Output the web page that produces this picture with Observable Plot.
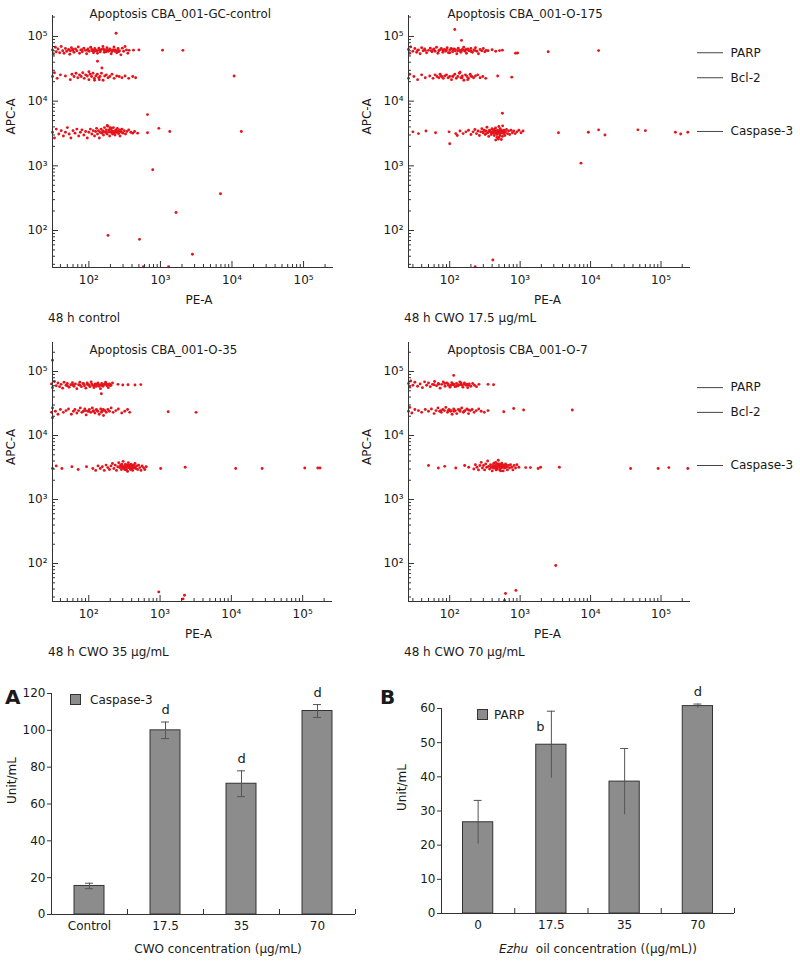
<!DOCTYPE html>
<html>
<head>
<meta charset="utf-8">
<script src="https://cdn.jsdelivr.net/npm/d3@7"></script>
<script src="https://cdn.jsdelivr.net/npm/@observablehq/plot@0.6"></script>
<style>
  body { margin: 0; background: #fff; }
  #fig { position: relative; width: 800px; height: 964px; font-family: "DejaVu Sans", sans-serif; color: #1a1a1a; overflow: hidden; }
  .abs { position: absolute; white-space: nowrap; }
  svg { max-width: none !important; }
</style>
</head>
<body>
<div id="fig"></div>
<script>
// ---------- Flow cytometry scatter data: [PE-A, APC-A] ----------
const ctrlParp = [[31,62000],[32,54000],[34,68000],[35,58000],[37,64000],[39,56000],[41,70000],[43,60000],[45,55000],[47,65000],[49,59000],[52,63000],[54,53000],[57,67000],[59,61000],[62,57000],[65,64000],[68,60000],[71,69000],[74,55000],[77,62000],[81,58000],[85,66000],[89,61000],[93,54000],[97,64000],[101,59000],[106,68000],[111,60000],[116,56000],[121,65000],[126,61000],[132,55000],[138,66000],[144,58000],[150,63000],[157,70000],[164,57000],[171,62000],[179,67000],[187,59000],[196,64000],[205,54000],[214,61000],[224,69000],[234,62000],[245,56000],[256,65000],[268,60000],[280,52000],[293,66000],[306,59000],[320,70000],[335,62000],[350,55000],[365,61000],[60,63000],[95,61000],[130,60000],[175,58000],[200,62000],[230,59000],[160,64000],[110,63000],[145,61000],[190,60000],[55,60000],[80,62000],[120,59000],[140,61500],[165,60500],[185,61500],[210,58500],[220,62500],[250,60000],[260,58000],[115,61000],[170,59500],[420,61500],[500,62000],[1070,61500],[2060,61000],[240,112000],[132,41500],[152,32500]];
const ctrlBcl2 = [[31,24000],[33,27500],[36,22500],[40,25500],[47,24500],[55,21500],[58,26000],[62,24000],[66,27000],[70,23000],[74,25500],[78,24000],[82,27500],[86,22500],[90,25500],[95,24500],[100,21500],[104,26000],[109,24000],[114,27000],[119,22500],[125,24500],[131,26000],[137,23000],[143,24000],[150,27000],[158,21000],[166,24500],[175,25500],[185,23000],[196,24000],[210,26000],[225,22500],[245,24500],[265,24000],[290,23000],[320,24500],[360,22500],[410,24000],[450,23000],[120,21000],[140,21500],[100,28500],[10700,24500]];
const ctrlCasp = [[31,3300],[33,2700],[35,3700],[38,3100],[41,3500],[44,2900],[47,3300],[50,3900],[53,3100],[56,2700],[60,3500],[64,3200],[68,3700],[72,2900],[76,3300],[80,3600],[85,3000],[90,3400],[95,2700],[100,3300],[105,3700],[110,3100],[115,3500],[120,2900],[124,3400],[128,3800],[132,3100],[136,3500],[140,2700],[144,3300],[148,3700],[152,3200],[156,3500],[160,3000],[165,3900],[170,3300],[175,3600],[180,3100],[185,4100],[190,3400],[195,2900],[200,3700],[205,3300],[210,3500],[215,3100],[220,3900],[226,3400],[232,3000],[238,3600],[244,3300],[250,3800],[257,3200],[264,3500],[272,2900],[280,3400],[290,3700],[300,3200],[312,3500],[325,3100],[340,3400],[360,3600],[385,3300],[410,3200],[435,3400],[175,3300],[190,3600],[205,3800],[215,3400],[225,3200],[240,3500],[255,3300],[270,3600],[285,3300],[160,3400],[180,4200],[200,3900],[230,3300],[245,3450],[260,3150],[210,3250],[195,3350],[480,3200],[660,3250],[660,6200],[950,3800],[1350,3400],[13500,3400]];
const ctrlOther = [[780,870],[6900,370],[1650,190],[185,84],[510,73],[2800,43],[580,27.5],[1300,27.5]];

const o175Parp = [[26,63000],[27,55000],[28,69000],[30,59000],[32,65000],[34,57000],[36,62000],[38,54000],[40,67000],[42,60000],[44,64000],[47,56000],[50,61000],[53,66000],[56,58000],[59,63000],[62,59000],[65,68000],[68,55000],[72,62000],[76,65000],[80,57000],[84,63000],[88,59000],[92,67000],[96,56000],[100,62000],[105,65000],[110,58000],[115,64000],[120,60000],[126,54000],[132,66000],[138,61000],[144,57000],[151,63000],[158,68000],[165,59000],[173,55000],[181,64000],[190,60000],[200,65000],[210,57000],[220,62000],[232,67000],[244,59000],[256,54000],[270,63000],[285,60000],[300,65000],[315,58000],[330,61000],[45,61000],[70,60000],[90,62000],[110,63000],[130,60000],[150,61000],[170,63000],[200,59000],[100,56000],[60,64000],[35,61000],[55,60000],[80,61500],[120,62500],[140,60500],[160,61500],[185,61000],[230,60500],[350,60000],[400,62500],[450,59000],[510,60500],[560,61500],[860,55000],[920,55500],[2500,58000],[13000,60500],[118,128000],[147,87000]];
const o175Bcl2 = [[26,22500],[27,26000],[31,24000],[35,21500],[40,25500],[45,23000],[52,24500],[58,22500],[62,25500],[66,24000],[70,23000],[73,26000],[77,24000],[81,22500],[85,24500],[90,25500],[95,23000],[100,24000],[106,21500],[112,24500],[118,26000],[124,22500],[130,24000],[137,27000],[144,23000],[151,24500],[159,21000],[167,25500],[176,24000],[185,22500],[195,26000],[206,24000],[218,23000],[232,24500],[250,25500],[270,23000],[295,24000],[325,22500],[75,24500],[110,24000],[150,23000],[200,24500],[140,28000],[180,21500],[480,24500],[760,23500]];
const o175Casp = [[30,3350],[36,3150],[46,3450],[63,3250],[98,3350],[100,2200],[122,3150],[128,2950],[140,3450],[155,3150],[170,3350],[185,3550],[200,3050],[215,3350],[228,3650],[240,3150],[252,3450],[264,2950],[275,3350],[286,3750],[297,3250],[308,3550],[318,3050],[328,3450],[338,3950],[348,3250],[358,2850],[368,3550],[378,3350],[388,3050],[398,3750],[408,3250],[418,3550],[428,2950],[438,3350],[448,3850],[458,3150],[468,2750],[478,3550],[488,3250],[498,4050],[508,3350],[518,2950],[528,3550],[540,2550],[552,3450],[565,4150],[578,3150],[592,3550],[606,2950],[620,3350],[640,3650],[660,3150],[685,3450],[710,3050],[740,3550],[775,3250],[810,3450],[850,3150],[900,3350],[960,3550],[1030,3250],[1100,3450],[300,3350],[330,3150],[360,3450],[390,3350],[420,3250],[450,3450],[480,3350],[510,3150],[540,3550],[570,3350],[600,3250],[430,3650],[470,3050],[520,3750],[560,2850],[500,2750],[490,2600],[440,3300],[460,3400],[530,3200],[550,3300],[580,3400],[3500,3250],[9300,3300],[13000,3600],[16000,3000],[47000,3600],[60000,3500],[160000,3300],[190000,3100],[240000,3300]];
const o175Other = [[560,6500],[450,2500],[7300,1100],[410,35],[230,27.5]];

const o35Parp = [[30,64000],[31,56000],[33,70000],[35,60000],[37,66000],[39,58000],[41,63000],[43,55000],[45,68000],[48,61000],[50,65000],[53,57000],[56,62000],[59,67000],[62,59000],[65,64000],[68,54000],[72,62000],[75,68000],[79,58000],[83,65000],[87,60000],[91,55000],[95,66000],[100,62000],[104,58000],[108,69000],[113,61000],[118,56000],[123,64000],[128,59000],[134,66000],[140,62000],[146,54000],[152,65000],[158,59000],[165,63000],[172,68000],[180,60000],[188,56000],[196,64000],[205,61000],[215,66000],[60,62000],[85,64000],[100,61000],[110,64000],[130,63000],[150,61000],[170,63000],[190,62000],[120,60000],[140,59000],[95,63000],[75,61000],[50,60000],[160,61500],[180,63500],[200,60500],[257,63000],[300,61500],[355,62000],[445,61500],[537,62500],[150,45000],[31,150000]];
const o35Bcl2 = [[30,23000],[31,27000],[34,24000],[37,21500],[40,25500],[44,23000],[48,24500],[52,26000],[57,21500],[61,24000],[64,25500],[68,22500],[72,24500],[76,27000],[80,23000],[84,24000],[88,26000],[92,21000],[97,24000],[102,25500],[107,23000],[112,27000],[117,24500],[122,22500],[128,25500],[134,24000],[140,21500],[147,26000],[154,24000],[161,20500],[168,24500],[176,23000],[185,25500],[195,24000],[206,27000],[220,23000],[240,24500],[260,26000],[290,22500],[320,24000],[350,25500],[375,23000],[100,24000],[130,24500],[150,23000],[115,24000],[90,24500],[160,25500],[1300,23500],[3200,23000],[31,19000]];
const o35Casp = [[31,3050],[35,3350],[42,3050],[58,3250],[71,2950],[93,3250],[114,3050],[125,2850],[135,3350],[145,3050],[155,3250],[165,2850],[175,3450],[185,3150],[195,2950],[205,3350],[215,3650],[225,3050],[235,3450],[245,2850],[255,3250],[263,3750],[271,3150],[279,3450],[287,2950],[295,3350],[303,3950],[311,3250],[319,2950],[327,3550],[335,3150],[343,2850],[351,3450],[359,3750],[367,3150],[375,3350],[384,2950],[393,3550],[402,3250],[412,2850],[422,3450],[433,3150],[445,3650],[457,3050],[470,3350],[485,2950],[500,3450],[520,3150],[540,2850],[560,3350],[585,3150],[610,2950],[640,3250],[280,3250],[300,3150],[320,3250],[340,3350],[360,3150],[380,3250],[400,3050],[420,3350],[440,3250],[290,3550],[330,2950],[370,3450],[410,3150],[350,2750],[310,3100],[345,3200],[395,3300],[430,3100],[1020,3050],[2250,3200],[11500,3050],[27000,3050],[107000,3100],[163000,3100],[175000,3100]];
const o35Other = [[960,36],[2200,32],[2100,28]];

const o7Parp = [[26,65000],[27,57000],[28,71000],[30,61000],[32,68000],[35,59000],[38,64000],[41,56000],[44,69000],[47,61000],[50,66000],[53,58000],[57,63000],[61,70000],[65,60000],[69,65000],[73,55000],[77,63000],[81,69000],[86,59000],[91,66000],[96,61000],[101,57000],[107,67000],[113,62000],[119,58000],[125,65000],[132,60000],[139,69000],[146,62000],[154,57000],[162,66000],[171,61000],[180,56000],[190,64000],[200,59000],[212,65000],[225,61000],[240,58000],[260,63000],[70,63000],[95,64000],[115,63000],[135,62000],[160,63000],[85,65000],[125,59000],[145,66000],[105,61000],[185,61000],[60,62000],[110,64500],[150,61500],[175,63500],[350,63000],[420,62000],[114,87000]];
const o7Bcl2 = [[26,24000],[27,27500],[29,22500],[32,25500],[36,24500],[40,23000],[45,25500],[50,24000],[55,26000],[60,22000],[64,24500],[68,27000],[72,24000],[76,23000],[80,25500],[84,24500],[88,27500],[93,23000],[98,25500],[103,24000],[108,21500],[114,26000],[120,24500],[126,22000],[133,25500],[140,24000],[148,27000],[156,23000],[165,24500],[175,26000],[185,22000],[196,24500],[208,25500],[222,23000],[238,24500],[258,26000],[280,24000],[310,23000],[350,24500],[75,24500],[95,24500],[115,24000],[140,25000],[160,24000],[185,25000],[105,24500],[585,23500],[810,26500],[1120,25000],[5500,25000]];
const o7Casp = [[50,3400],[69,3100],[85,3300],[122,3100],[163,3400],[186,3200],[220,3000],[232,3500],[244,3200],[256,2900],[268,3400],[280,3800],[291,3100],[302,3400],[313,2900],[324,3600],[335,3200],[346,4000],[357,3300],[368,3000],[379,3500],[390,3200],[401,2800],[412,3400],[423,3700],[434,3100],[445,3400],[456,2900],[467,3600],[478,3200],[489,4100],[500,3300],[512,2900],[524,3500],[536,3100],[548,3700],[560,3200],[575,2800],[590,3400],[605,3100],[620,3600],[640,3200],[660,2900],[680,3400],[705,3100],[730,3500],[760,3200],[790,2900],[820,3400],[860,3100],[900,3500],[960,3200],[400,3200],[430,3300],[460,3200],[490,3400],[520,3200],[550,3300],[580,3200],[610,3400],[640,3400],[470,3000],[500,3600],[530,2800],[450,3800],[560,3500],[420,3100],[480,3350],[510,3150],[540,3300],[1200,3150],[1400,3150],[1800,3050],[1950,3200],[3600,3200],[37000,3050],[91000,3050],[129000,3150],[240000,3050]];
const o7Other = [[3200,93],[870,38],[620,34],[600,26.5]];

// bead marker labels (APC-A level of each bead population)
const beadNames = ["PARP", "Bcl-2", "Caspase-3"];
const beadLevels = [56000, 23000, 3400];

// decade tick values
const majorTicks = [1e2, 1e3, 1e4, 1e5];

// ---------- Bar chart data ----------
const catsA = ["Control", "17.5", "35", "70"];
const caspase3 = [15.5, 100, 71, 110.5];
const caspase3Err = [1.5, 4.5, 7, 3.5];
const sigA = ["", "d", "d", "d"];
const ticksA = [0, 20, 40, 60, 80, 100, 120];

const catsB = ["0", "17.5", "35", "70"];
const parp = [26.7, 49.4, 38.6, 60.7];
const parpErr = [6.4, 9.8, 9.7, 0.6];
const sigB = ["", "b", "", "d"];
const ticksB = [0, 10, 20, 30, 40, 50, 60];

// ---------- helpers ----------
const RED = "#e5141b";
const AX = "#333";
const FONT = "DejaVu Sans, sans-serif";
const fig = document.getElementById("fig");
const SUP = {2: "\u00b2", 3: "\u00b3", 4: "\u2074", 5: "\u2075"};
const supFmt = d => "10" + SUP[Math.round(Math.log10(d))];

function minorTicks([lo, hi]) {
  const t = [];
  for (let e = 1; e <= 5; e++) for (let k = 2; k <= 9; k++) {
    const v = k * 10 ** e;
    if (v >= lo && v <= hi) t.push(v);
  }
  return t;
}

function place(node, left, top, w) {
  const d = document.createElement("div");
  d.className = "abs";
  d.style.left = left + "px";
  d.style.top = top + "px";
  d.style.width = w + "px";
  d.appendChild(node);
  fig.appendChild(d);
}

function text(str, left, top, css = "") {
  const d = document.createElement("div");
  d.className = "abs";
  d.style.cssText += `left:${left}px;top:${top}px;${css}`;
  d.innerHTML = str;
  fig.appendChild(d);
}

function scatter(groups, o) {
  const pts = groups.flat();
  const marks = [
    Plot.dot(pts, {x: d => d[0], y: d => d[1], r: 1.45, fill: RED}),
    Plot.ruleX([o.xd[0]], {stroke: AX}),
    Plot.ruleY([o.yd[0]], {stroke: AX}),
    Plot.axisX({ticks: minorTicks(o.xd), tickSize: 3, dy: -3, tickFormat: () => "", label: null, stroke: AX}),
    Plot.axisX({ticks: majorTicks, tickSize: 6, dy: -6, tickFormat: () => "", label: null, stroke: AX}),
    Plot.axisX({ticks: majorTicks, tickSize: 0, tickPadding: 8, tickFormat: supFmt, label: null, fontSize: 12}),
    Plot.axisY({ticks: minorTicks(o.yd), tickSize: 3, dx: 3, tickFormat: () => "", label: null, stroke: AX}),
    Plot.axisY({ticks: majorTicks, tickSize: 6, dx: 6, tickFormat: () => "", label: null, stroke: AX}),
    Plot.axisY({ticks: majorTicks, tickSize: 0, tickPadding: 5, tickFormat: supFmt, label: null, fontSize: 12}),
    Plot.text([o.title], {text: d => d, frameAnchor: "top-left", dx: o.tdx, dy: o.tdy, textAnchor: "start", lineAnchor: "middle", fontSize: 11.8}),
    Plot.text(["PE-A"], {text: d => d, frameAnchor: "bottom", dx: o.pedx, dy: 36, fontSize: 12}),
    Plot.text(["APC-A"], {text: d => d, frameAnchor: "left", dx: -41, dy: -7, rotate: -90, fontSize: 12})
  ];
  if (o.markers) {
    const m = beadNames.map((n, i) => ({n, v: beadLevels[i]}));
    marks.push(
      Plot.ruleY(m, {y: "v", insetLeft: o.frameW + 7, insetRight: -33, stroke: "#444"}),
      Plot.text(m, {y: "v", text: "n", frameAnchor: "right", dx: 40, textAnchor: "start", fontSize: 12})
    );
  }
  return Plot.plot({
    width: o.w, height: o.h,
    marginTop: o.mt, marginBottom: o.mb, marginLeft: 52, marginRight: o.mr,
    style: {background: "transparent", overflow: "visible", fontFamily: FONT, fontSize: "12px", color: "#1a1a1a"},
    x: {type: "log", domain: o.xd},
    y: {type: "log", domain: o.yd},
    marks
  });
}

function bars(cats, vals, errs, sig, o) {
  const data = cats.map((c, i) => ({i, c, v: vals[i], e: errs[i], s: sig[i]}));
  const marks = [
    Plot.rect(data, {x1: d => d.i, x2: d => d.i + 1, y1: d => 0, y2: "v", insetLeft: o.inset, insetRight: o.inset, fill: "#8c8c8c", stroke: "#333", strokeWidth: 1}),
    Plot.ruleX(data, {x: d => d.i + 0.5, y1: d => d.v - d.e, y2: d => d.v + d.e, stroke: "#555"}),
    Plot.ruleY(data, {y: d => d.v + d.e, x1: d => d.i + 0.5, x2: d => d.i + 0.5, insetLeft: -4, insetRight: -4, stroke: "#555"}),
    Plot.ruleX([0], {stroke: AX}),
    Plot.ruleY([0], {stroke: AX}),
    Plot.axisY({ticks: o.yticks, tickSize: 4, tickPadding: 2, label: null, stroke: AX, fontSize: 12}),
    Plot.axisX({ticks: d3.range(1, cats.length + 1), tickSize: 5, dy: -5, tickFormat: () => "", label: null, stroke: AX}),
    Plot.axisX({ticks: data.map(d => d.i + 0.5), tickSize: 0, tickPadding: 7, tickFormat: d => cats[Math.floor(d)], label: null, fontSize: 12}),
    Plot.text(["Unit/mL"], {text: d => d, frameAnchor: "left", dx: -39, rotate: -90, fontSize: 12})
  ];
  if (o.bottomCaps) marks.push(Plot.ruleY(data, {y: d => d.v - d.e, x1: d => d.i + 0.5, x2: d => d.i + 0.5, insetLeft: -4, insetRight: -4, stroke: "#555"}));
  marks.push(Plot.text(data.filter(d => d.s === "d"), {x: d => d.i + 0.5, y: d => d.v + d.e, text: "s", dy: -12, fontSize: 13}));
  marks.push(Plot.text(data.filter(d => d.s === "b"), {x: d => d.i + 0.5, y: "v", text: "s", dy: -18, dx: -11, fontSize: 13}));
  return Plot.plot({
    width: o.w, height: o.h,
    marginTop: o.mt, marginBottom: o.mb, marginLeft: 51, marginRight: o.mr,
    style: {background: "transparent", overflow: "visible", fontFamily: FONT, fontSize: "12px", color: "#1a1a1a"},
    x: {domain: [0, cats.length]},
    y: {domain: o.yd},
    marks
  });
}

// ---------- scatter panels ----------
place(scatter([ctrlParp, ctrlBcl2, ctrlCasp, ctrlOther], {
  w: 400, h: 310, mt: 15, mb: 43, mr: 67, xd: [31, 262144], yd: [26.8, 211000],
  title: "Apoptosis CBA_001-GC-control", tdx: 37, tdy: -1, pedx: 6
}), 0, 0, 400);
place(scatter([o175Parp, o175Bcl2, o175Casp, o175Other], {
  w: 444, h: 310, mt: 15, mb: 43, mr: 110, xd: [26, 262144], yd: [26.8, 211000],
  title: "Apoptosis CBA_001-O-175", tdx: 39, tdy: -1, pedx: -2, markers: true, frameW: 282
}), 356, 0, 444);
place(scatter([o35Parp, o35Bcl2, o35Casp, o35Other], {
  w: 400, h: 330, mt: 22, mb: 49, mr: 68, xd: [31, 262144], yd: [25.5, 284000],
  title: "Apoptosis CBA_001-O-35", tdx: 37, tdy: 8, pedx: 6
}), 0, 320, 400);
place(scatter([o7Parp, o7Bcl2, o7Casp, o7Other], {
  w: 444, h: 330, mt: 22, mb: 49, mr: 110, xd: [26, 262144], yd: [25.5, 284000],
  title: "Apoptosis CBA_001-O-7", tdx: 39, tdy: 8, pedx: -2, markers: true, frameW: 282
}), 356, 320, 444);

text("48 h control", 48, 311, "font-size:12px");
text("48 h CWO 17.5 &mu;g/mL", 404, 311, "font-size:12px");
text("48 h CWO 35 &mu;g/mL", 48, 645, "font-size:12px");
text("48 h CWO 70 &mu;g/mL", 404, 645, "font-size:12px");

// ---------- bar charts ----------
place(bars(catsA, caspase3, caspase3Err, sigA, {
  w: 400, h: 294, mt: 23, mb: 50, mr: 45, yd: [0, 120], yticks: ticksA, inset: 23, bottomCaps: true
}), 0, 670, 400);
place(bars(catsB, parp, parpErr, sigB, {
  w: 410, h: 294, mt: 38, mb: 51, mr: 66, yd: [0, 60], yticks: ticksB, inset: 21.5, bottomCaps: false
}), 390, 670, 410);

text("A", 5, 686, "font-size:20px;font-weight:bold;line-height:22px");
text("B", 380, 686, "font-size:20px;font-weight:bold;line-height:22px");
text("CWO concentration (&mu;g/mL)", 68, 942, "width:300px;text-align:center;font-size:12px");
text("<i>Ezhu</i>&nbsp; oil concentration ((&mu;g/mL))", 448, 942, "width:300px;text-align:center;font-size:12px");

// legends
text("", 70, 694, "width:9px;height:9px;background:#8c8c8c;border:1px solid #333");
text("Caspase-3", 90, 692, "font-size:12px;line-height:16px");
text("", 477, 709, "width:9px;height:9px;background:#8c8c8c;border:1px solid #333");
text("PARP", 494, 707, "font-size:12px;line-height:16px");
</script>
</body>
</html>
